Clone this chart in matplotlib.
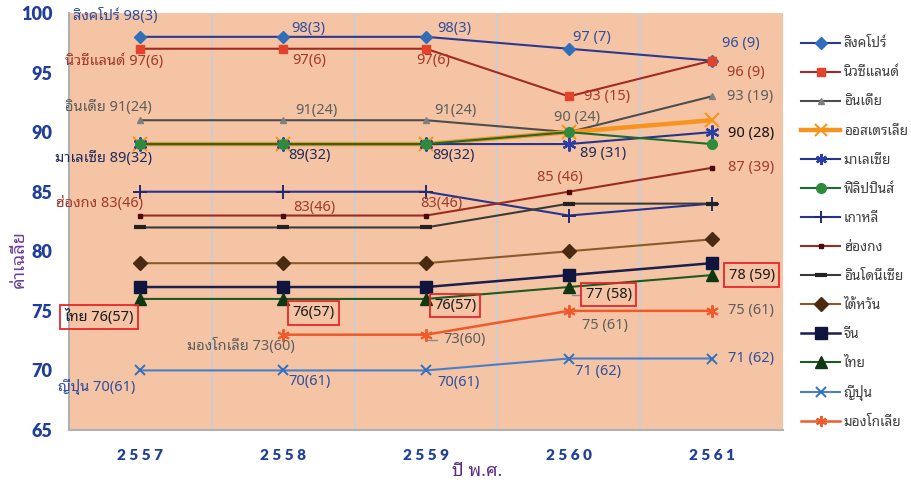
import matplotlib
matplotlib.use("Agg")
import matplotlib.pyplot as plt

# ---- data -------------------------------------------------------------
years = ["2557", "2558", "2559", "2560", "2561"]

countries = ["สิงคโปร์", "นิวซีแลนด์", "อินเดีย", "ออสเตรเลีย", "มาเลเซีย",
             "ฟิลิปปินส์", "เกาหลี", "ฮ่องกง", "อินโดนีเซีย", "ไต้หวัน",
             "จีน", "ไทย", "ญี่ปุ่น", "มองโกเลีย"]

singapore   = [98, 98, 98, 97, 96]
newzealand  = [97, 97, 97, 93, 96]
india       = [91, 91, 91, 90, 93]
australia   = [89, 89, 89, 90, 91]
malaysia    = [89, 89, 89, 89, 90]
philippines = [89, 89, 89, 90, 89]
korea       = [85, 85, 85, 83, 84]
hongkong    = [83, 83, 83, 85, 87]
indonesia   = [82, 82, 82, 84, 84]
taiwan      = [79, 79, 79, 80, 81]
china       = [77, 77, 77, 78, 79]
thailand    = [76, 76, 76, 77, 78]
japan       = [70, 70, 70, 71, 71]
mongolia    = [None, 73, 73, 75, 75]

# world ranking shown in brackets next to the score
rank_singapore  = [3, 3, 3, 7, 9]
rank_newzealand = [6, 6, 6, 15, 9]
rank_india      = [24, 24, 24, 24, 19]
rank_malaysia   = [32, 32, 32, 31, 28]
rank_hongkong   = [46, 46, 46, 46, 39]
rank_thailand   = [57, 57, 57, 58, 59]
rank_mongolia   = [None, 60, 60, 61, 61]
rank_japan      = [61, 61, 61, 62, 62]

series = [singapore, newzealand, india, australia, malaysia, philippines,
          korea, hongkong, indonesia, taiwan, china, thailand, japan, mongolia]

# ---- styles -----------------------------------------------------------
THAI = ["Noto Sans Thai Looped", "Lato", "DejaVu Sans"]
ASTER = (6, 2, 0)
styles = [
    dict(color="#2B3990", lw=1.5, marker="D", mfc="#2F6EBA", mec="#2F6EBA", ms=6),
    dict(color="#A12B22", lw=1.5, marker="s", mfc="#E2432A", mec="#E2432A", ms=6),
    dict(color="#4D4D4D", lw=1.5, marker="^", mfc="#7F7F7F", mec="#7F7F7F", ms=5),
    dict(color="#F7941D", lw=3.2, marker="x", mfc="#F7941D", mec="#F7941D", ms=10, mew=1.5),
    dict(color="#27348B", lw=1.5, marker=ASTER, mfc="#2B3FA8", mec="#2B3FA8", ms=10, mew=1.6),
    dict(color="#1E6B2E", lw=1.5, marker="o", mfc="#2E8B3E", mec="#2E8B3E", ms=7),
    dict(color="#27348B", lw=1.5, marker="+", mfc="#1F2A70", mec="#1F2A70", ms=10, mew=1.4),
    dict(color="#9B2A22", lw=1.5, marker="s", mfc="#4D0A0A", mec="#4D0A0A", ms=3.5),
    dict(color="#3A3A3A", lw=1.5, marker="_", mfc="#222222", mec="#222222", ms=8, mew=3),
    dict(color="#8B5A2B", lw=1.5, marker="D", mfc="#4A2A10", mec="#4A2A10", ms=7),
    dict(color="#1A1F4D", lw=1.8, marker="s", mfc="#10153F", mec="#10153F", ms=9),
    dict(color="#1E5B23", lw=1.5, marker="^", mfc="#0F3812", mec="#0F3812", ms=9),
    dict(color="#4A7FC8", lw=1.5, marker="x", mfc="#3070C0", mec="#3070C0", ms=7, mew=1.4),
    dict(color="#EE5A2A", lw=1.8, marker=ASTER, mfc="#EE5A2A", mec="#EE5A2A", ms=9, mew=1.4),
]

fig = plt.figure(figsize=(9.11, 4.84), dpi=100)
ax = fig.add_axes([69 / 911, 54 / 484, 714 / 911, 417 / 484])
ax.set_facecolor("#F5C4A4")

x = list(range(len(years)))
handles = []
for name, vals, st in zip(countries, series, styles):
    xs = [i for i, v in zip(x, vals) if v is not None]
    ys = [v for v in vals if v is not None]
    (h,) = ax.plot(xs, ys, label=name, zorder=3, **st)
    handles.append(h)

ax.set_xlim(-0.5, len(years) - 0.5)
ax.set_ylim(65, 100)
ax.set_yticks(range(65, 101, 5))
ax.set_xticks(x)
ax.set_xticklabels([" ".join(y) for y in years])
for gx in [0.5, 1.5, 2.5, 3.5]:
    ax.axvline(gx, color="#C5CFDA", lw=1.2, zorder=1)
ax.tick_params(length=0)
ax.tick_params(axis="y", pad=12)
ax.tick_params(axis="x", pad=14)
for lab in ax.get_yticklabels():
    lab.set_fontfamily("Lato"); lab.set_fontweight("heavy"); lab.set_fontsize(13); lab.set_color("#1F3F99")
for lab in ax.get_xticklabels():
    lab.set_fontfamily("Lato"); lab.set_fontweight("heavy"); lab.set_fontsize(11); lab.set_color("#1F3F99")
for s in ["top", "right"]:
    ax.spines[s].set_visible(False)
ax.spines["left"].set_color("#B0B0B0")
ax.spines["bottom"].set_color("#B0B0B0")
ax.spines["left"].set_linewidth(1.5)
ax.spines["bottom"].set_linewidth(1.5)

ax.set_ylabel("ค่าเฉลี่ย", family=THAI, fontsize=13, color="#6A3D9A")
ax.yaxis.set_label_coords(-0.058, 0.41)
ax.set_xlabel("ปี พ.ศ.", family=THAI, fontsize=13, color="#5B2C83")
ax.xaxis.set_label_coords(0.571, -0.077)

# ---- data labels ------------------------------------------------------
PX = 0.72  # points per pixel at 100 dpi


def label_text(name, v, r, i, first):
    core = f"{v}({r})" if i < 3 else f"{v} ({r})"
    return f"{name} {core}" if first else core


# offsets in pixels (dx, dy up) and horizontal alignment per point
label_specs = [
    (0, singapore, rank_singapore, "#2E4FA0",
     [(-25, 21, "center"), (8, 8, "left"), (11, 8, "left"), (4, 11, "left"), (10, 17, "left")]),
    (1, newzealand, rank_newzealand, "#A33A2A",
     [(-26, -12, "center"), (9, -12, "left"), (7, -12, "center"), (15, 0, "left"), (15, -12, "left")]),
    (2, india, rank_india, "#5E5E5E",
     [(-32, 13, "center"), (12, 10, "left"), (8, 10, "left"), (8, 15, "center"), (15, 0, "left")]),
    (4, malaysia, rank_malaysia, "#1F2A5A",
     [(-37, -14, "center"), (5, -11, "left"), (6, -11, "left"), (11, -9, "left"), (16, -1, "left")]),
    (7, hongkong, rank_hongkong, "#A33A2A",
     [(-41, 12, "center"), (10, 8, "left"), (15, 12, "center"), (-9, 14, "center"), (16, 0, "left")]),
    (13, mongolia, rank_mongolia, "#5E5E5E",
     [None, (-42, -11, "center"), (17, -5, "left"), (13, -15, "left"), (16, 0, "left")]),
    (12, japan, rank_japan, "#2E4FA0",
     [(-44, -17, "center"), (5, -11, "left"), (11, -12, "left"), (6, -13, "left"), (16, 0, "left")]),
]

for idx, vals, ranks, col, offs in label_specs:
    first_done = False
    for i, (v, r, off) in enumerate(zip(vals, ranks, offs)):
        if v is None:
            continue
        dx, dy, ha = off
        txt = label_text(countries[idx], v, r, i, not first_done)
        first_done = True
        color = "#111111" if (idx == 4 and i == 4) else col
        kw = {}
        if idx == 13 and i == 2:
            kw["arrowprops"] = dict(arrowstyle="-", color="#8C8C8C", lw=1.0,
                                    connectionstyle="angle,angleA=0,angleB=90,rad=0",
                                    shrinkA=2, shrinkB=4)
        ax.annotate(txt, (i, v), xytext=(dx * PX, dy * PX), textcoords="offset points",
                    ha=ha, va="center", fontsize=10.5, color=color, family=THAI,
                    zorder=5, **kw)

# boxed labels for Thailand
thai_offs = [(-41, -18), (30, -14), (29, -6.5), (40, -7.5), (40, 0)]
thai_lead = [False, False, False, True, False]
first_done = False
for i, (v, r, (dx, dy), lead) in enumerate(zip(thailand, rank_thailand, thai_offs, thai_lead)):
    txt = label_text(countries[11], v, r, i, not first_done)
    first_done = True
    kw = {}
    if lead:
        kw["arrowprops"] = dict(arrowstyle="-", color="#8C8C8C", lw=1.0,
                                connectionstyle="angle,angleA=0,angleB=90,rad=0",
                                shrinkA=0, shrinkB=6)
    ax.annotate(txt, (i, v), xytext=(dx * PX, dy * PX), textcoords="offset points",
                ha="center", va="center", fontsize=10.5, color="#1A1A1A", family=THAI,
                bbox=dict(boxstyle="square,pad=0.3", fc="none", ec="#E8262A", lw=1.3),
                zorder=6, annotation_clip=False, **kw)

# ---- legend -----------------------------------------------------------
leg = fig.legend(handles=handles, loc="upper left", bbox_to_anchor=(796 / 911, 1 - 31 / 484),
                 frameon=False, prop={"family": THAI, "size": 9.8}, handlelength=2.8,
                 handletextpad=0.3, labelspacing=1.03, borderaxespad=0)
for t in leg.get_texts():
    t.set_color("#404040")
for h in leg.legend_handles:
    ms = h.get_markersize()
    h.set_markersize(min(ms, 8))

fig.savefig("out.png", dpi=100)
